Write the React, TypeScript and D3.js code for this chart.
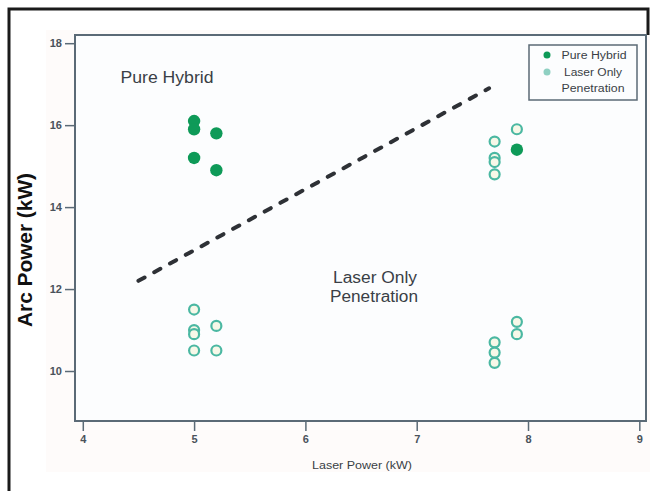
import React, { useRef, useEffect } from 'react';
import * as d3 from 'd3';

// pure hybrid (filled) and laser only penetration (open) points
const hybridX = [5, 5, 5, 5.2, 5.2, 7.9];
const hybridY = [16.1, 15.9, 15.2, 15.8, 14.9, 15.4];
const laserX = [5, 5, 5, 5, 5.2, 5.2, 7.7, 7.7, 7.7, 7.7, 7.9, 7.7, 7.7, 7.7, 7.9, 7.9];
const laserY = [11.5, 11.0, 10.9, 10.5, 11.1, 10.5, 15.6, 15.2, 15.1, 14.8, 15.9, 10.7, 10.45, 10.2, 11.2, 10.9];
const boundaryX = [4.5, 7.65];
const boundaryY = [12.2, 16.9];
const xTicks = [4, 5, 6, 7, 8, 9];
const yTicks = [10, 12, 14, 16, 18];
const legendLabels = ['Pure Hybrid', 'Laser Only', 'Penetration'];

const W = 657;
const H = 491;
const left = 75;
const right = 646;
const top = 35;
const bottom = 421;

const GREEN = '#0e9a58';
const TEAL = '#4bb8a2';
const AXIS = '#5b6a76';
const TXT = '#3a3f46';
const FONT = 'Arial, Liberation Sans, sans-serif';

function ProcessMap() {
  const svgRef = useRef(null);

  useEffect(() => {
    const svg = d3.select(svgRef.current);
    svg.selectAll('*').remove();

    const x = d3.scaleLinear().domain([3.93, 9.06]).range([left, right]);
    const y = d3.scaleLinear().domain([8.78, 18.2]).range([bottom, top]);

    // faint scan tint behind the figure
    svg.append('rect')
      .attr('x', 46).attr('y', 30).attr('width', 604).attr('height', 442)
      .attr('fill', '#fefbfa');

    // outer frame
    svg.append('path')
      .attr('d', `M9,${H} V9 H648 V${top}`)
      .attr('fill', 'none')
      .attr('stroke', '#1a1a1a')
      .attr('stroke-width', 3);

    svg.append('rect')
      .attr('x', left).attr('y', top)
      .attr('width', right - left).attr('height', bottom - top)
      .attr('fill', '#fcfdfe')
      .attr('stroke', AXIS)
      .attr('stroke-width', 2);

    // y axis
    const yAxis = svg.append('g')
      .attr('transform', `translate(${left},0)`)
      .call(d3.axisLeft(y).tickValues(yTicks).tickSize(10).tickPadding(3).tickFormat(d3.format('d')));
    yAxis.select('.domain').remove();
    yAxis.selectAll('line').attr('stroke', AXIS).attr('stroke-width', 1.5);
    yAxis.selectAll('text')
      .attr('fill', '#4a525a')
      .attr('font-family', FONT)
      .attr('font-size', 11)
      .attr('font-weight', 'bold');

    // x axis
    const xAxis = svg.append('g')
      .attr('transform', `translate(0,${bottom})`)
      .call(d3.axisBottom(x).tickValues(xTicks).tickSize(10).tickPadding(4).tickFormat(d3.format('d')));
    xAxis.select('.domain').remove();
    xAxis.selectAll('line').attr('stroke', AXIS).attr('stroke-width', 1.5);
    xAxis.selectAll('text')
      .attr('fill', '#4a525a')
      .attr('font-family', FONT)
      .attr('font-size', 11)
      .attr('font-weight', 'bold');

    svg.append('text')
      .attr('x', 362).attr('y', 469)
      .attr('text-anchor', 'middle')
      .attr('font-family', FONT)
      .attr('font-size', 11)
      .attr('textLength', 100)
      .attr('lengthAdjust', 'spacingAndGlyphs')
      .attr('fill', TXT)
      .text('Laser Power (kW)');

    svg.append('text')
      .attr('transform', 'translate(32,250) rotate(-90)')
      .attr('text-anchor', 'middle')
      .attr('font-family', FONT)
      .attr('font-size', 20)
      .attr('font-weight', 'bold')
      .attr('textLength', 154)
      .attr('lengthAdjust', 'spacingAndGlyphs')
      .attr('fill', '#111')
      .text('Arc Power (kW)');

    // dashed boundary
    const line = d3.line().x((d) => x(d[0])).y((d) => y(d[1]));
    svg.append('path')
      .datum(d3.zip(boundaryX, boundaryY))
      .attr('d', line)
      .attr('fill', 'none')
      .attr('stroke', '#2e3136')
      .attr('stroke-width', 4)
      .attr('stroke-linecap', 'round')
      .attr('stroke-dasharray', '7 11');

    // region labels
    const lbl = (tx, ty, s, len) =>
      svg.append('text')
        .attr('x', tx).attr('y', ty)
        .attr('text-anchor', 'middle')
        .attr('font-family', FONT)
        .attr('font-size', 16)
        .attr('textLength', len)
        .attr('lengthAdjust', 'spacingAndGlyphs')
        .attr('fill', TXT)
        .text(s);
    lbl(167, 83, 'Pure Hybrid', 93);
    lbl(375, 283, 'Laser Only', 84);
    lbl(374, 302, 'Penetration', 88);

    // points
    svg.append('g').selectAll('circle')
      .data(d3.zip(laserX, laserY))
      .join('circle')
      .attr('cx', (d) => x(d[0]))
      .attr('cy', (d) => y(d[1]))
      .attr('r', 5)
      .attr('fill', '#f7f8e8')
      .attr('stroke', TEAL)
      .attr('stroke-width', 2.2);

    svg.append('g').selectAll('circle')
      .data(d3.zip(hybridX, hybridY))
      .join('circle')
      .attr('cx', (d) => x(d[0]))
      .attr('cy', (d) => y(d[1]))
      .attr('r', 6.2)
      .attr('fill', GREEN);

    // legend
    const lg = svg.append('g');
    lg.append('rect')
      .attr('x', 529).attr('y', 45).attr('width', 108).attr('height', 55)
      .attr('fill', '#fcfdfe')
      .attr('stroke', AXIS)
      .attr('stroke-width', 1.5);
    lg.append('circle').attr('cx', 547).attr('cy', 55).attr('r', 3.5).attr('fill', GREEN);
    lg.append('circle').attr('cx', 547).attr('cy', 72).attr('r', 3.5).attr('fill', '#8fd0c2');
    const legendLen = [65, 58, 63];
    lg.selectAll('text.lg')
      .data(legendLabels)
      .join('text')
      .attr('class', 'lg')
      .attr('x', (d, i) => (i === 0 ? 594 : 593))
      .attr('y', (d, i) => 59 + i * 16.5)
      .attr('text-anchor', 'middle')
      .attr('font-family', FONT)
      .attr('font-size', 10)
      .attr('textLength', (d, i) => legendLen[i])
      .attr('lengthAdjust', 'spacingAndGlyphs')
      .attr('fill', TXT)
      .text((d) => d);
  }, []);

  return <svg ref={svgRef} width={W} height={H} style={{ display: 'block' }}></svg>;
}

export default function App() {
  return (
    <div style={{ position: 'absolute', left: 0, top: 0, width: W, height: H, background: '#fff' }}>
      <ProcessMap />
    </div>
  );
}
